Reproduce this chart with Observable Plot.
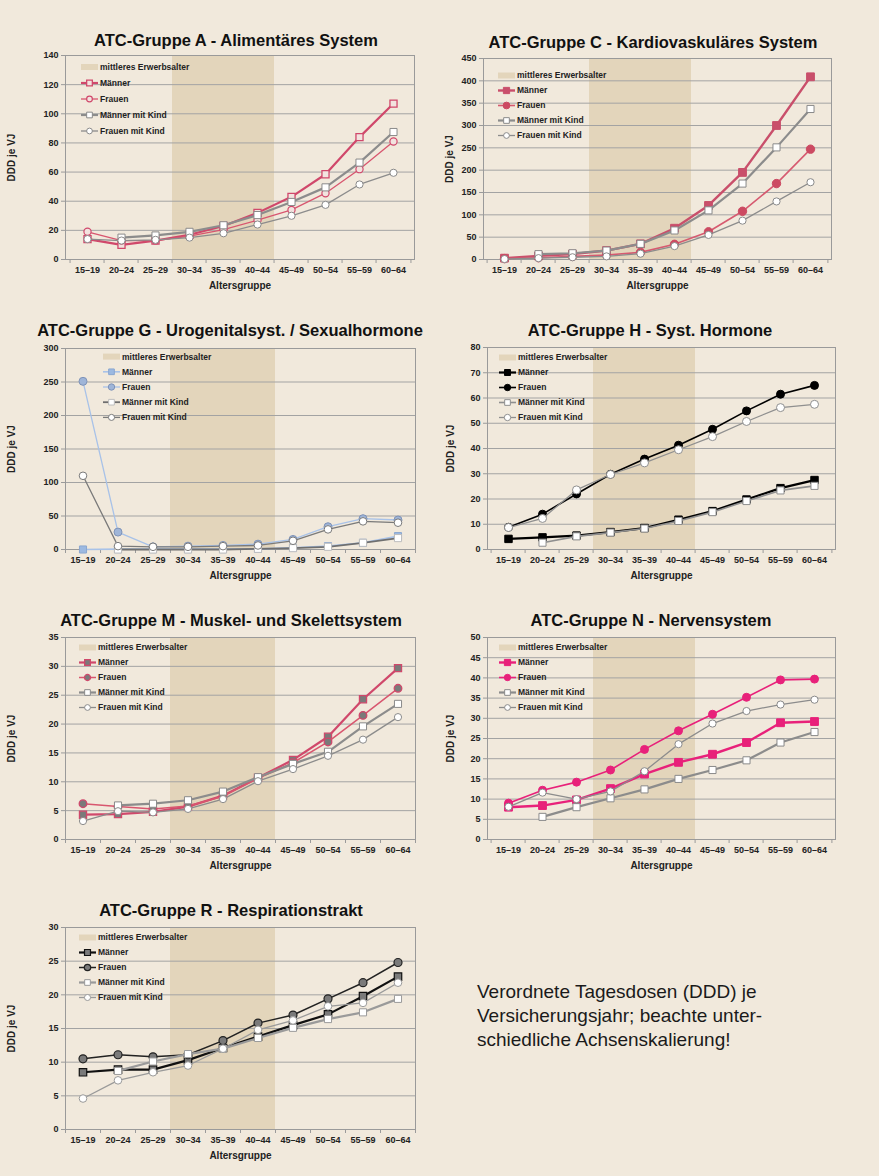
<!DOCTYPE html>
<html><head><meta charset="utf-8">
<script src="https://cdn.jsdelivr.net/npm/d3@7"></script>
<script src="https://cdn.jsdelivr.net/npm/@observablehq/plot@0.6"></script>
<style>
html,body{margin:0;padding:0;background:#f1e9dc;}
#page{position:relative;width:879px;height:1176px;background:#f1e9dc;font-family:"Liberation Sans",Arial,sans-serif;overflow:hidden;}
.title{position:absolute;font-weight:bold;font-size:16.5px;line-height:20px;transform:translateX(-50%);white-space:nowrap;color:#111;}
.panel{position:absolute;}
.legend{position:absolute;overflow:visible;}
.note{position:absolute;left:477px;top:980px;font-size:19px;line-height:24px;color:#1a1a1a;white-space:nowrap;}
</style>
</head><body>
<div id="page"></div>
<script>
// ---------- data ----------
const ages = ["15–19","20–24","25–29","30–34","35–39","40–44","45–49","50–54","55–59","60–64"];
const erwerbsalter = ["30–34","35–39","40–44"];
const seriesNames = ["Männer","Frauen","Männer mit Kind","Frauen mit Kind"];
const bandLabel = "mittleres Erwerbsalter";

const A_maenner      = [14, 10, 13, 17, 23, 32, 43, 58.5, 84, 107];
const A_frauen       = [19, 13, 13, 16, 20.5, 27, 34, 45.5, 62, 81];
const A_maennerKind  = [null, 15, 16.5, 19, 23.5, 30.5, 39.5, 49.5, 66.5, 87.5];
const A_frauenKind   = [14, 13, 13.5, 15, 18, 24, 30, 37.5, 51.5, 59.5];
const A_ticks = [0,20,40,60,80,100,120,140];

const C_maenner      = [3, 8, 12, 20, 35, 70, 121, 195, 300, 409];
const C_frauen       = [2, 4, 7, 10, 16, 34, 62, 108, 170, 247];
const C_maennerKind  = [null, 12, 14, 20, 35, 65, 110, 170, 251, 337];
const C_frauenKind   = [1, 3, 5, 7, 13, 30, 55, 87, 130, 173];
const C_ticks = [0,50,100,150,200,250,300,350,400,450];

const G_maenner      = [0, 0.5, 0.5, 0.5, 0.5, 1, 2.5, 5, 10, 20];
const G_frauen       = [251, 26, 4, 5, 6, 8, 15, 34, 46, 44];
const G_maennerKind  = [null, 0, 0, 0, 0, 1, 2, 4, 10, 17];
const G_frauenKind   = [110, 5, 4, 4, 5, 6, 13, 30, 42, 40];
const G_ticks = [0,50,100,150,200,250,300];

const H_maenner      = [4.2, 4.8, 5.5, 6.9, 8.5, 11.8, 15.2, 19.8, 24.3, 27.5];
const H_frauen       = [8.8, 14, 22, 29.8, 35.8, 41.3, 47.6, 54.9, 61.5, 65];
const H_maennerKind  = [null, 2.7, 5.2, 6.7, 8.3, 11.3, 14.8, 19.2, 23.4, 25.2];
const H_frauenKind   = [8.7, 12.3, 23.6, 29.7, 34.3, 39.5, 44.7, 50.7, 56.2, 57.5];
const H_ticks = [0,10,20,30,40,50,60,70,80];

const M_maenner      = [4.3, 4.4, 4.8, 5.7, 7.6, 10.7, 13.8, 17.8, 24.3, 29.7];
const M_frauen       = [6.2, 5.7, 5.3, 5.8, 7.5, 10.6, 13.3, 16.9, 21.5, 26.2];
const M_maennerKind  = [null, 5.9, 6.2, 6.8, 8.3, 10.8, 13.1, 15.2, 19.6, 23.5];
const M_frauenKind   = [3.2, 4.9, 4.7, 5.3, 7.0, 10.1, 12.2, 14.5, 17.3, 21.2];
const M_ticks = [0,5,10,15,20,25,30,35];

const N_maenner      = [8.0, 8.4, 9.8, 12.6, 16.2, 19.1, 21.1, 24.0, 28.9, 29.2];
const N_frauen       = [9.0, 12.2, 14.2, 17.2, 22.3, 26.9, 31.0, 35.2, 39.5, 39.7];
const N_maennerKind  = [null, 5.6, 8.0, 10.2, 12.4, 15.0, 17.2, 19.6, 24.0, 26.6];
const N_frauenKind   = [8.1, 11.6, 10.0, 11.9, 16.9, 23.6, 28.7, 31.8, 33.4, 34.6];
const N_ticks = [0,5,10,15,20,25,30,35,40,45,50];

const R_maenner      = [8.5, 8.9, 8.9, 10.3, 12.1, 13.8, 15.5, 17.1, 19.8, 22.7];
const R_frauen       = [10.5, 11.1, 10.8, 11.1, 13.2, 15.8, 17.0, 19.4, 21.8, 24.8];
const R_maennerKind  = [null, 8.7, 10.1, 11.2, 12.0, 13.6, 15.1, 16.4, 17.4, 19.4];
const R_frauenKind   = [4.6, 7.3, 8.5, 9.5, 12.0, 14.8, 16.2, 18.3, 18.8, 21.8];
const R_ticks = [0,5,10,15,20,25,30];

// ---------- styles ----------
const BG = "#f1e9dc", BAND = "#e3d5bb", GRID = "#a3a3a3", AXIS = "#9a9a9a";
const GRAY = "#8c8c8c";
const kidStyles = [
  {stroke: GRAY, sw: 2.2, symbol: "square", r: 4, fill: "#fff", ms: "#8a8a8a", msw: 1},
  {stroke: GRAY, sw: 1.3, symbol: "circle", r: 3.6, fill: "#fff", ms: "#8a8a8a", msw: 1}
];
const S = {
  A: [{stroke: "#d0486b", sw: 2.2, symbol: "square", r: 4, fill: "#f2e3df", ms: "#d0486b", msw: 1.3},
      {stroke: "#d8566f", sw: 1.3, symbol: "circle", r: 3.6, fill: "#f2e3df", ms: "#d0486b", msw: 1.2}, ...kidStyles],
  C: [{stroke: "#c94f6b", sw: 2.4, symbol: "square", r: 4.4, fill: "#c94f6b", ms: "#c94f6b", msw: 1},
      {stroke: "#d65a70", sw: 1.6, symbol: "circle", r: 4.2, fill: "#cc4a62", ms: "#cc4a62", msw: 1}, ...kidStyles],
  G: [{stroke: "#a8c2e8", sw: 1.6, symbol: "square", r: 4, fill: "#9cb9e1", ms: "#8aa7d0", msw: 1},
      {stroke: "#a8c2e8", sw: 1.3, symbol: "circle", r: 4, fill: "#9fb5d8", ms: "#7f93b8", msw: 1},
      {stroke: "#6f6f6f", sw: 1.8, symbol: "square", r: 4, fill: "#fff", ms: "#bdbdbd", msw: 1},
      {stroke: "#7a7a7a", sw: 1.3, symbol: "circle", r: 3.8, fill: "#fff", ms: "#7a7a7a", msw: 1}],
  H: [{stroke: "#000", sw: 2.2, symbol: "square", r: 4.2, fill: "#000", ms: "#000", msw: 1},
      {stroke: "#000", sw: 1.6, symbol: "circle", r: 4, fill: "#000", ms: "#000", msw: 1},
      {stroke: "#8f8f8f", sw: 1.6, symbol: "square", r: 4, fill: "#fff", ms: "#8f8f8f", msw: 1},
      {stroke: "#8f8f8f", sw: 1.3, symbol: "circle", r: 4, fill: "#fff", ms: "#8f8f8f", msw: 1}],
  M: [{stroke: "#d0486b", sw: 2.2, symbol: "square", r: 4, fill: "#7a7a7a", ms: "#d0486b", msw: 1.3},
      {stroke: "#d8566f", sw: 1.5, symbol: "circle", r: 3.8, fill: "#7a7a7a", ms: "#d0486b", msw: 1.3}, ...kidStyles],
  N: [{stroke: "#e8217a", sw: 2.4, symbol: "square", r: 4.4, fill: "#e8217a", ms: "#e8217a", msw: 1},
      {stroke: "#e8217a", sw: 1.6, symbol: "circle", r: 4, fill: "#e8217a", ms: "#e8217a", msw: 1}, ...kidStyles],
  R: [{stroke: "#111", sw: 2.2, symbol: "square", r: 4.2, fill: "#7a7a7a", ms: "#111", msw: 1.2},
      {stroke: "#222", sw: 1.5, symbol: "circle", r: 4, fill: "#7a7a7a", ms: "#222", msw: 1.2},
      {stroke: "#9a9a9a", sw: 2.2, symbol: "square", r: 4, fill: "#fff", ms: "#9a9a9a", msw: 1},
      {stroke: "#9a9a9a", sw: 1.3, symbol: "circle", r: 3.8, fill: "#fff", ms: "#9a9a9a", msw: 1}]
};

const panels = [
  {title: "ATC-Gruppe A - Alimentäres System", tx: 236, ty: 40, values: [A_maenner, A_frauen, A_maennerKind, A_frauenKind],
   ticks: A_ticks, styles: S.A, box: {left: 0, top: 50, width: 430, height: 250, ml: 65, mr: 16, mt: 5, mb: 41}, ylo: 58, leg: [16, 12, 16]},
  {title: "ATC-Gruppe C - Kardiovaskuläres System", tx: 653, ty: 42, values: [C_maenner, C_frauen, C_maennerKind, C_frauenKind],
   ticks: C_ticks, styles: S.C, box: {left: 440, top: 50, width: 400, height: 250, ml: 43, mr: 9, mt: 8, mb: 41}, ylo: 38, leg: [15, 17, 15]},
  {title: "ATC-Gruppe G - Urogenitalsyst. / Sexualhormone", tx: 230, ty: 330, values: [G_maenner, G_frauen, G_maennerKind, G_frauenKind],
   ticks: G_ticks, styles: S.G, box: {left: 0, top: 340, width: 430, height: 250, ml: 65, mr: 15, mt: 8, mb: 41}, ylo: 58, leg: [38, 9, 15.2]},
  {title: "ATC-Gruppe H - Syst. Hormone", tx: 650, ty: 330, values: [H_maenner, H_frauen, H_maennerKind, H_frauenKind],
   ticks: H_ticks, styles: S.H, box: {left: 440, top: 340, width: 400, height: 250, ml: 47, mr: 5, mt: 7, mb: 41}, ylo: 41, leg: [12, 10, 15]},
  {title: "ATC-Gruppe M - Muskel- und Skelettsystem", tx: 231, ty: 620, values: [M_maenner, M_frauen, M_maennerKind, M_frauenKind],
   ticks: M_ticks, styles: S.M, box: {left: 0, top: 630, width: 430, height: 250, ml: 65, mr: 15, mt: 7, mb: 41}, ylo: 58, leg: [14, 10, 15]},
  {title: "ATC-Gruppe N - Nervensystem", tx: 651, ty: 620, values: [N_maenner, N_frauen, N_maennerKind, N_frauenKind],
   ticks: N_ticks, styles: S.N, box: {left: 440, top: 630, width: 400, height: 250, ml: 47, mr: 5, mt: 7, mb: 41}, ylo: 41, leg: [12, 10, 15]},
  {title: "ATC-Gruppe R - Respirationstrakt", tx: 231, ty: 910, values: [R_maenner, R_frauen, R_maennerKind, R_frauenKind],
   ticks: R_ticks, styles: S.R, box: {left: 0, top: 920, width: 430, height: 250, ml: 65, mr: 15, mt: 7, mb: 41}, ylo: 58, leg: [14, 10, 15]}
];

const page = document.getElementById("page");

function drawPanel(cfg) {
  const {box, ticks, styles} = cfg;
  const yMax = ticks[ticks.length - 1];
  const innerW = box.width - box.ml - box.mr;
  const innerH = box.height - box.mt - box.mb;
  const bw = innerW / ages.length;
  const rows = [];
  cfg.values.forEach((vals, s) => vals.forEach((v, i) => {
    if (v != null) rows.push({age: ages[i], value: v, series: seriesNames[s]});
  }));
  const marks = [
    Plot.barY(erwerbsalter, {x: d => d, y1: 0, y2: yMax, fill: BAND, inset: 0}),
    Plot.gridY(ticks, {stroke: GRID, strokeOpacity: 1, strokeWidth: 1}),
    Plot.frame({stroke: AXIS, strokeWidth: 1}),
    Plot.ruleX(ages, {x: d => d, dx: -bw / 2, insetTop: innerH, insetBottom: -4, stroke: AXIS}),
    Plot.ruleX(ages.slice(-1), {x: d => d, dx: bw / 2, insetTop: innerH, insetBottom: -4, stroke: AXIS}),
    Plot.axisY({ticks, tickSize: 4, tickPadding: 3, stroke: AXIS, fill: "#222", label: null}),
    Plot.axisY({ticks: [], fontSize: 10, fill: "#222", label: "DDD je VJ",
      labelAnchor: "center", labelOffset: cfg.ylo, labelArrow: "none"}),
    Plot.axisX({tickSize: 0, tickPadding: 7, fill: "#222", label: null}),
    Plot.axisX({ticks: [], fontSize: 10, fill: "#222", label: "Altersgruppe", labelAnchor: "center", labelOffset: 29, labelArrow: "none"})
  ];
  seriesNames.forEach((name, s) => {
    const st = styles[s];
    const d = rows.filter(r => r.series === name);
    marks.push(Plot.line(d, {x: "age", y: "value", stroke: st.stroke, strokeWidth: st.sw}));
    marks.push(Plot.dot(d, {x: "age", y: "value", symbol: st.symbol, r: st.r, fill: st.fill, stroke: st.ms, strokeWidth: st.msw}));
  });
  const svg = Plot.plot({
    width: box.width, height: box.height,
    marginLeft: box.ml, marginRight: box.mr, marginTop: box.mt, marginBottom: box.mb,
    x: {type: "band", domain: ages, padding: 0},
    y: {domain: [0, yMax]},
    style: {background: "transparent", fontFamily: "Liberation Sans, Arial, sans-serif", fontSize: "9px", fontWeight: "bold", color: "#222", overflow: "visible"},
    marks
  });
  const wrap = document.createElement("div");
  wrap.className = "panel";
  wrap.style.left = box.left + "px";
  wrap.style.top = box.top + "px";
  wrap.appendChild(svg);
  page.appendChild(wrap);

  // title
  const t = document.createElement("div");
  t.className = "title";
  t.textContent = cfg.title;
  t.style.left = cfg.tx + "px";
  t.style.top = (cfg.ty - 10) + "px";
  page.appendChild(t);

  // legend
  const [ox, oy, sp] = cfg.leg;
  const lw = 170, lh = sp * 5;
  const lg = d3.create("svg").attr("class", "legend").attr("width", lw).attr("height", lh)
    .style("left", (box.left + box.ml + ox) + "px")
    .style("top", (box.top + box.mt + oy - sp / 2) + "px")
    .style("font-family", "Liberation Sans, Arial, sans-serif")
    .style("font-size", "8.5px").style("font-weight", "bold");
  const labels = [bandLabel, ...seriesNames];
  labels.forEach((lab, i) => {
    const cy = sp / 2 + i * sp;
    if (i === 0) {
      lg.append("rect").attr("x", 0).attr("y", cy - 3).attr("width", 17).attr("height", 6).attr("fill", BAND);
    } else {
      const st = styles[i - 1];
      lg.append("line").attr("x1", 0).attr("x2", 17).attr("y1", cy).attr("y2", cy)
        .attr("stroke", st.stroke).attr("stroke-width", st.sw);
      const rr = st.r * 0.8;
      lg.append("path")
        .attr("d", d3.symbol(st.symbol === "square" ? d3.symbolSquare : d3.symbolCircle, Math.PI * rr * rr)())
        .attr("transform", `translate(8.5,${cy})`)
        .attr("fill", st.fill).attr("stroke", st.ms).attr("stroke-width", st.msw);
    }
    lg.append("text").attr("x", 19).attr("y", cy).attr("dy", "0.35em").attr("fill", "#222").text(lab);
  });
  page.appendChild(lg.node());
}

panels.forEach(drawPanel);

const note = document.createElement("div");
note.className = "note";
note.innerHTML = "Verordnete Tagesdosen (DDD) je<br>Versicherungsjahr; beachte unter-<br>schiedliche Achsenskalierung!";
page.appendChild(note);
</script>
</body></html>
